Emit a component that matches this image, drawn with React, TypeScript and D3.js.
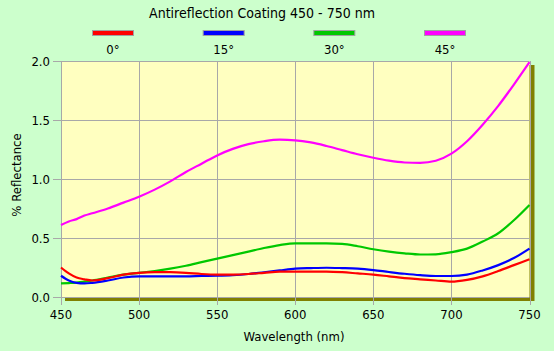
import React, { useRef, useEffect } from 'react';
import * as d3 from 'd3';

// wavelengths (nm) shared by all series
const wavelengths = [450, 455, 460, 465, 470, 480, 490, 500, 510, 520, 530, 540, 550, 560, 570, 580, 590, 600, 610, 620, 630, 640, 650, 660, 670, 680, 690, 700, 710, 720, 730, 740, 750];

const r0 = [0.25, 0.2, 0.165, 0.15, 0.14, 0.16, 0.19, 0.205, 0.21, 0.21, 0.205, 0.195, 0.19, 0.19, 0.195, 0.205, 0.215, 0.215, 0.215, 0.215, 0.21, 0.2, 0.19, 0.175, 0.16, 0.15, 0.14, 0.13, 0.145, 0.175, 0.22, 0.27, 0.32];
const r15 = [0.18, 0.14, 0.12, 0.115, 0.12, 0.14, 0.165, 0.175, 0.175, 0.175, 0.175, 0.178, 0.18, 0.185, 0.195, 0.21, 0.225, 0.24, 0.245, 0.248, 0.245, 0.24, 0.228, 0.212, 0.197, 0.185, 0.178, 0.178, 0.19, 0.225, 0.27, 0.33, 0.41];
const r30 = [0.115, 0.118, 0.122, 0.13, 0.14, 0.165, 0.19, 0.205, 0.22, 0.24, 0.265, 0.295, 0.325, 0.355, 0.385, 0.415, 0.44, 0.455, 0.455, 0.455, 0.45, 0.43, 0.405, 0.385, 0.37, 0.36, 0.362, 0.38, 0.41, 0.47, 0.54, 0.65, 0.78];
const r45 = [0.61, 0.64, 0.66, 0.69, 0.71, 0.75, 0.8, 0.85, 0.91, 0.98, 1.06, 1.13, 1.2, 1.255, 1.295, 1.32, 1.333, 1.328, 1.31, 1.28, 1.245, 1.21, 1.18, 1.155, 1.14, 1.137, 1.155, 1.215, 1.32, 1.46, 1.62, 1.8, 1.99];

const seriesNames = ['0°', '15°', '30°', '45°'];
const seriesColors = ['#ff0000', '#0000ff', '#00c800', '#ff00ff'];
const seriesValues = [r0, r15, r30, r45];

const xTicks = [450, 500, 550, 600, 650, 700, 750];
const yTicks = [0, 0.5, 1.0, 1.5, 2.0];

const App = () => {
    const ref = useRef<SVGSVGElement>(null);

    useEffect(() => {
        const svg = d3.select(ref.current);
        svg.selectAll('*').remove();

        const width = 554;
        const height = 351;
        const margin = { top: 61, right: 24, bottom: 54, left: 61 };
        const font = 'Tahoma, "DejaVu Sans Condensed", "DejaVu Sans", sans-serif';

        svg.append('rect').attr('width', width).attr('height', height).attr('fill', '#ccffcc');

        const x = d3.scaleLinear().domain([450, 750]).range([margin.left, width - margin.right - 0.5]);
        const y = d3.scaleLinear().domain([0, 2]).range([height - margin.bottom, margin.top]);

        const x0 = x(450), x1 = x(750), y0 = y(0), y1 = y(2);

        // drop shadow behind plot area
        svg.append('rect')
            .attr('x', x0 + 4).attr('y', y1 + 4)
            .attr('width', x1 - x0 + 1).attr('height', y0 - y1)
            .attr('fill', '#808000');
        svg.append('rect')
            .attr('x', x0).attr('y', y1)
            .attr('width', x1 - x0).attr('height', y0 - y1)
            .attr('fill', '#ffffc0');

        // grid + ticks
        svg.append('g').selectAll('line').data(yTicks).enter().append('line')
            .attr('x1', x0 - 8).attr('x2', x1)
            .attr('y1', d => Math.round(y(d)) + 0.5).attr('y2', d => Math.round(y(d)) + 0.5)
            .attr('stroke', '#a8a8a8').attr('stroke-width', 1);
        svg.append('g').selectAll('line').data(xTicks).enter().append('line')
            .attr('x1', d => Math.round(x(d)) + 0.5).attr('x2', d => Math.round(x(d)) + 0.5)
            .attr('y1', y1).attr('y2', y0 + 8)
            .attr('stroke', '#a8a8a8').attr('stroke-width', 1);

        // tick labels
        svg.append('g').selectAll('text').data(yTicks).enter().append('text')
            .attr('x', x0 - 11).attr('y', d => y(d) + 4.5)
            .attr('text-anchor', 'end')
            .style('font-family', font).style('font-size', '13px').attr('fill', '#000')
            .text(d => d3.format('.1f')(d));
        svg.append('g').selectAll('text').data(xTicks).enter().append('text')
            .attr('x', d => x(d)).attr('y', y0 + 22)
            .attr('text-anchor', 'middle')
            .style('font-family', font).style('font-size', '13px').attr('fill', '#000')
            .text(d => d);

        // series lines
        const line = d3.line<number>()
            .x((_, i) => x(wavelengths[i]))
            .y(d => y(d))
            .curve(d3.curveMonotoneX);
        const plot = svg.append('g');
        [2, 1, 0, 3].forEach(k => {
            plot.append('path')
                .attr('d', line(seriesValues[k]))
                .attr('fill', 'none')
                .attr('stroke', seriesColors[k])
                .attr('stroke-width', 2.2);
        });

        // title
        svg.append('text')
            .attr('x', 262).attr('y', 18)
            .attr('text-anchor', 'middle')
            .style('font-family', font).style('font-size', '14px').attr('fill', '#000')
            .text('Antireflection Coating 450 - 750 nm');

        // legend
        const legendX = d3.scalePoint().domain(seriesNames).range([113, 445]);
        const lg = svg.append('g').selectAll('g').data(seriesNames).enter().append('g');
        lg.append('rect')
            .attr('x', d => (legendX(d) as number) - 20.5).attr('y', 30.5)
            .attr('width', 41).attr('height', 5)
            .attr('fill', (_, i) => seriesColors[i])
            .attr('stroke', '#a0a0a0').attr('stroke-width', 1);
        lg.append('text')
            .attr('x', d => legendX(d) as number).attr('y', 54)
            .attr('text-anchor', 'middle')
            .style('font-family', font).style('font-size', '13px').attr('fill', '#000')
            .text(d => d);

        // axis titles
        svg.append('text')
            .attr('x', 294).attr('y', 341)
            .attr('text-anchor', 'middle')
            .style('font-family', font).style('font-size', '13px').attr('fill', '#000')
            .text('Wavelength (nm)');
        svg.append('text')
            .attr('transform', 'translate(21, 175) rotate(-90)')
            .attr('text-anchor', 'middle')
            .style('font-family', font).style('font-size', '13px').attr('fill', '#000')
            .text('% Reflectance');
    }, []);

    return (
        <svg ref={ref} width={554} height={351} style={{ position: 'absolute', left: 0, top: 0, display: 'block' }}></svg>
    );
};

export default App;
